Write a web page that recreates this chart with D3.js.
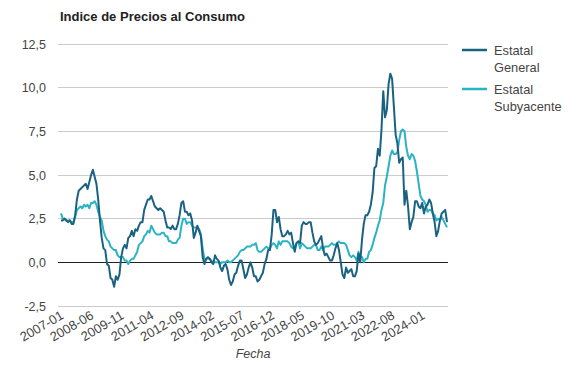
<!DOCTYPE html>
<html><head><meta charset="utf-8">
<script src="https://cdn.jsdelivr.net/npm/d3@7"></script>
<style>body{margin:0;background:#fff;font-family:"Liberation Sans",Arial,sans-serif;}</style>
</head><body><svg id="c" width="585" height="387"></svg>
<script>
const startYear = 2007, startMonth = 1;
const general = [
2.4,2.4,2.5,2.4,2.3,2.4,2.2,2.2,2.7,3.6,4.1,4.2,
4.3,4.4,4.5,4.2,4.6,5.0,5.3,4.9,4.5,3.6,2.4,1.4,
0.8,0.7,-0.1,-0.2,-0.9,-1.0,-1.4,-0.8,-1.0,-0.7,0.3,0.8,
1.0,0.8,1.4,1.5,1.8,1.5,1.9,1.8,2.1,2.3,2.3,3.0,
3.3,3.6,3.6,3.8,3.5,3.2,3.1,3.0,3.1,3.0,2.9,2.4,
2.0,2.0,1.9,2.1,1.9,1.9,2.2,2.7,3.4,3.5,2.9,2.9,
2.7,2.8,2.4,1.4,1.7,2.1,1.8,1.5,0.3,-0.1,0.2,0.3,
0.2,0.0,-0.1,0.4,0.2,0.1,-0.3,-0.5,-0.2,-0.1,-0.4,-1.0,
-1.3,-1.1,-0.7,-0.6,-0.2,0.1,0.1,-0.4,-0.9,-0.7,-0.3,0.0,
-0.3,-0.8,-0.8,-1.1,-1.0,-0.8,-0.6,-0.1,0.2,0.7,0.7,1.6,
3.0,3.0,2.3,2.6,1.9,1.5,1.5,1.6,1.8,1.6,1.7,1.1,
0.6,1.1,1.2,1.1,2.1,2.3,2.2,2.2,2.3,2.3,1.7,1.2,
1.0,1.1,1.3,1.5,0.8,0.4,0.5,0.3,0.1,0.1,0.4,0.8,
1.1,0.7,0.0,-0.7,-0.9,-0.3,-0.6,-0.5,-0.4,-0.8,-0.8,-0.5,
0.5,0.0,1.3,2.2,2.7,2.7,2.9,3.3,4.0,5.4,5.5,6.5,
6.1,7.6,9.8,8.3,8.7,10.2,10.8,10.5,8.9,7.3,6.8,5.7,
5.9,6.0,3.3,4.1,3.2,1.9,2.3,2.6,3.5,3.5,3.2,3.1,
3.4,2.8,3.2,3.3,3.6,3.4,2.8,2.3,1.5,1.8,2.4,2.8,
2.9,3.0,2.3];
const subyacente = [
2.8,2.5,2.5,2.4,2.4,2.4,2.3,2.3,2.6,3.0,3.1,3.2,
3.1,3.3,3.2,3.3,3.1,3.4,3.4,3.5,3.3,2.9,2.6,2.4,
1.8,1.5,1.3,1.2,0.9,0.8,0.7,0.7,0.4,0.3,0.3,0.3,
0.1,0.1,-0.1,0.1,0.2,0.2,0.4,0.6,1.0,1.1,1.2,1.5,
1.6,1.8,1.7,2.1,1.9,1.7,1.6,1.6,1.6,1.7,1.7,1.5,
1.5,1.2,1.2,1.1,1.1,1.1,1.3,1.4,2.1,2.5,2.5,2.2,
2.3,2.3,2.1,2.0,2.0,2.0,1.9,1.6,0.8,0.2,0.2,0.2,
0.2,0.1,0.0,0.0,0.0,0.0,-0.1,0.0,0.0,0.0,0.1,0.0,
0.0,0.1,0.2,0.3,0.4,0.6,0.7,0.7,0.8,0.9,0.9,0.9,
1.0,1.0,1.1,0.7,0.6,0.6,0.7,0.8,0.9,0.8,0.8,1.0,
1.1,1.0,0.8,1.2,1.0,1.2,1.2,1.2,1.2,1.1,0.9,0.8,
0.9,1.1,1.2,0.8,1.1,1.0,0.9,0.8,0.8,0.8,0.9,1.0,
1.0,0.7,0.7,0.9,0.7,0.9,0.9,0.9,1.0,1.1,1.0,1.0,
1.1,1.2,1.1,1.1,1.1,1.0,0.7,0.4,0.3,0.4,0.3,0.1,
0.6,0.3,0.3,0.0,0.2,0.2,0.6,0.7,1.0,1.4,1.7,2.1,
2.4,3.0,3.4,4.4,4.9,5.5,6.1,6.4,6.2,6.2,6.3,7.0,
7.5,7.6,7.5,6.6,6.1,5.9,6.2,6.1,5.8,5.2,4.5,3.8,
3.6,3.5,3.3,2.9,3.0,3.0,2.8,2.7,2.4,2.5,2.4,2.6,
2.4,2.2,2.0];
const yTicks = [-2.5,0,2.5,5,7.5,10,12.5];
const seriesNames = ["Estatal General","Estatal Subyacente"];
const colors = ["#1a6282","#2ab3c2"];

const dates = general.map((_,i)=>{
  const m = startMonth - 1 + i;
  const y = startYear + Math.floor(m/12);
  return y + "-" + String(m%12+1).padStart(2,"0");
});
const tickLabels = dates.filter((_,i)=>i%17===0);

const svg = d3.select("#c");
const x = d3.scalePoint().domain(dates).range([61,447]);
const y = d3.scaleLinear().domain([-2.5,12.5]).range([306,44]);
const fmt = v => d3.format(".1f")(v).replace(".",",").replace("−","-");

svg.append("text").attr("x",60).attr("y",21).attr("font-size",13).attr("font-weight","bold")
  .attr("fill","#222").text("Indice de Precios al Consumo");

const ga = svg.append("g");
yTicks.forEach(t=>{
  ga.append("line").attr("x1",58).attr("x2",448).attr("y1",y(t)).attr("y2",y(t))
    .attr("stroke", t===0 ? "#222" : "#ccc").attr("stroke-width",1).attr("shape-rendering","crispEdges");
  ga.append("text").attr("x",46).attr("y",y(t)+4.5).attr("text-anchor","end")
    .attr("font-size",12.5).attr("fill","#444").text(fmt(t));
});

const xAxis = svg.append("g").attr("transform","translate(0,306)")
  .call(d3.axisBottom(x).tickValues(tickLabels).tickSize(0).tickPadding(0));
xAxis.select(".domain").remove();
xAxis.selectAll("text").attr("font-size",13).attr("fill","#444")
  .attr("font-family","'Liberation Sans',Arial,sans-serif")
  .attr("text-anchor","end").attr("dy",0)
  .attr("transform","translate(3,12) rotate(-30)");

svg.append("text").attr("x",253).attr("y",358).attr("text-anchor","middle")
  .attr("font-size",12.5).attr("font-style","italic").attr("fill","#444").text("Fecha");

const line = d3.line().x((d,i)=>x(dates[i])).y(d=>y(d));
[subyacente, general].forEach((s,k)=>{
  svg.append("path").datum(s).attr("d",line).attr("fill","none")
    .attr("stroke", k===0 ? colors[1] : colors[0]).attr("stroke-width",2).attr("stroke-linejoin","round");
});

const lg = svg.append("g");
seriesNames.forEach((n,i)=>{
  const yy = 50 + i*39;
  lg.append("line").attr("x1",462).attr("x2",487).attr("y1",yy).attr("y2",yy)
    .attr("stroke",colors[i]).attr("stroke-width",2.5);
  const parts = n.split(" ");
  parts.forEach((p,j)=>{
    lg.append("text").attr("x",494).attr("y",yy+4.5+j*17).attr("font-size",12.8)
      .attr("fill","#444").text(p);
  });
});
</script></body></html>
